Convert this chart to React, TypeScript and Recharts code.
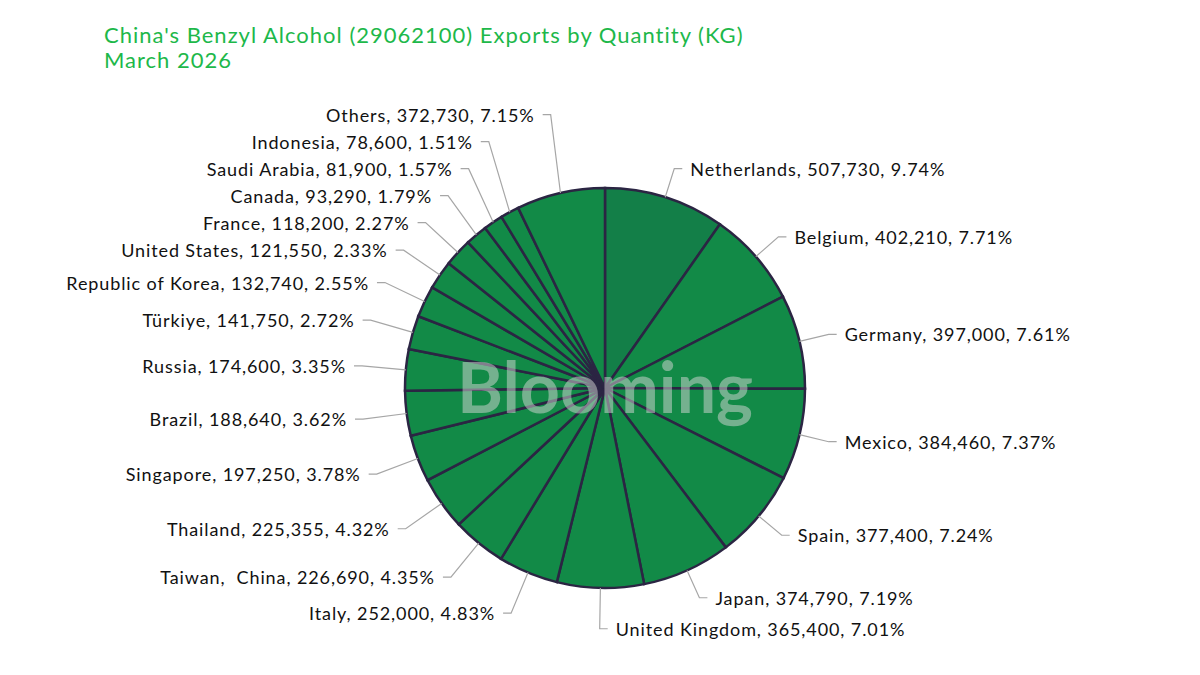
import React from 'react';
import { PieChart, Pie, Cell } from 'recharts';

const countries = [
  'Netherlands', 'Belgium', 'Germany', 'Mexico', 'Spain', 'Japan', 'United Kingdom',
  'Italy', 'Taiwan,  China', 'Thailand', 'Singapore', 'Brazil', 'Russia', 'Türkiye',
  'Republic of Korea', 'United States', 'France', 'Canada', 'Saudi Arabia', 'Indonesia', 'Others',
];
const quantities = [
  507730, 402210, 397000, 384460, 377400, 374790, 365400,
  252000, 226690, 225355, 197250, 188640, 174600, 141750,
  132740, 121550, 118200, 93290, 81900, 78600, 372730,
];

const total = quantities.reduce((a, b) => a + b, 0);
const chartData = countries.map((name, i) => ({ name, value: quantities[i] }));

const CX = 605;
const CY = 388;
const OUTER = 200;
const RAD = Math.PI / 180;
const fmt = (v: number) => v.toLocaleString('en-US');

// elbow points of the leader lines, spread out so texts don't overlap
const labelLayout = (() => {
  let cum = 0;
  const pts = quantities.map((v) => {
    const deg = ((cum + v / 2) / total) * 360; // clockwise from 12 o'clock
    cum += v;
    const right = deg < 185;
    const r = right ? 230 : 244;
    return {
      right,
      x: CX + r * Math.sin(deg * RAD),
      y: CY - r * Math.cos(deg * RAD),
    };
  });
  const left = pts.filter(p => !p.right).sort((a, b) => b.y - a.y);
  let prev = Infinity;
  left.forEach((p) => {
    p.y = Math.min(p.y, prev - 27);
    prev = p.y;
  });
  const right = pts.filter(p => p.right).sort((a, b) => a.y - b.y);
  prev = -Infinity;
  right.forEach((p) => {
    p.y = Math.max(p.y, prev + 31);
    prev = p.y;
  });
  return pts;
})();

const renderLabel = (props: any) => {
  const { cx, cy, midAngle, outerRadius, index, name, value } = props;
  const sx = cx + outerRadius * Math.cos(-midAngle * RAD);
  const sy = cy + outerRadius * Math.sin(-midAngle * RAD);
  const e = labelLayout[index];
  const dir = e.right ? 1 : -1;
  const hx = e.x + dir * 8;
  const pct = ((value / total) * 100).toFixed(2);
  return (
    <g key={`lbl-${index}`}>
      <polyline points={`${sx},${sy} ${e.x},${e.y} ${hx},${e.y}`} fill="none" stroke="#a6a6a6" strokeWidth={1.2} />
      <text
        x={hx + dir * 8}
        y={e.y}
        textAnchor={e.right ? 'start' : 'end'}
        dominantBaseline="central"
        fill="#111111"
        fontSize={18}
        fontFamily="Lato, sans-serif"
        style={{ whiteSpace: 'pre', letterSpacing: '0.9px' }}
      >
        {`${name}, ${fmt(value)}, ${pct}%`}
      </text>
    </g>
  );
};

export default function App() {
  return (
    <div style={{ position: 'fixed', left: 0, top: 0, width: 1200, height: 675, background: '#ffffff', fontFamily: 'Lato, sans-serif' }}>
      <div style={{ position: 'absolute', left: 104, top: 22, color: '#1db84a', fontSize: 22, lineHeight: '25px', letterSpacing: '1px' }}>
        <div>China's Benzyl Alcohol (29062100) Exports by Quantity (KG)</div>
        <div>March 2026</div>
      </div>
      <PieChart width={1200} height={675} margin={{ top: 0, right: 0, bottom: 0, left: 0 }}>
        <Pie
          data={chartData}
          dataKey="value"
          nameKey="name"
          cx={CX}
          cy={CY}
          outerRadius={OUTER}
          startAngle={90}
          endAngle={-270}
          stroke="#2b2543"
          strokeWidth={2.5}
          label={renderLabel}
          labelLine={false}
          isAnimationActive={false}
        >
          {chartData.map((d, i) => (
            <Cell key={d.name} fill={i === 0 ? '#137f48' : '#128a47'} />
          ))}
        </Pie>
      </PieChart>
      <div
        style={{
          position: 'absolute', left: CX - 200, top: CY - 44, width: 400, textAlign: 'center',
          fontSize: 70, fontWeight: 700, color: 'rgba(215,215,215,0.5)', lineHeight: '84px', pointerEvents: 'none',
        }}
      >
        Blooming
      </div>
    </div>
  );
}
